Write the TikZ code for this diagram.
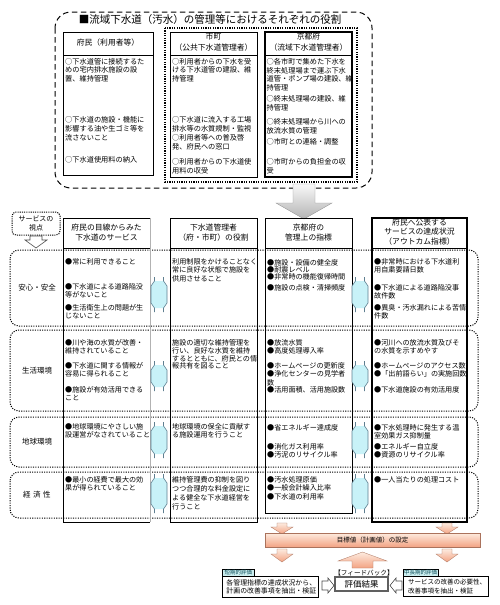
\documentclass[tikz,border=0pt]{standalone}
\usepackage{fontspec}
\setmainfont{Noto Sans CJK JP}
\usetikzlibrary{positioning}
\definecolor{linkfill}{HTML}{C8F2F8}
\definecolor{linkline}{HTML}{5F7F90}
\definecolor{peachlt}{HTML}{FDEBDF}
\definecolor{peachdk}{HTML}{F3A383}
\definecolor{tabfill}{HTML}{CDEFF0}
\definecolor{tabtext}{HTML}{0E4E5A}
\begin{document}
\begin{tikzpicture}[x=1pt,y=-1pt,
  colbox/.style={draw,line width=0.6pt},
  item/.style={anchor=north west,align=left,inner sep=0pt,font=\fontsize{7.1}{8.2}\selectfont},
  topitem/.style={item,font=\fontsize{7.2}{8.7}\selectfont},
  head/.style={align=center,inner sep=0pt,font=\fontsize{7.8}{9.2}\selectfont},
  rowbox/.style={draw,dash pattern=on 1.1pt off 1.3pt,line width=1pt,rounded corners=9pt},
  rowlabel/.style={inner sep=0pt,font=\fontsize{7.5}{9}\selectfont},
  dots/.style={dash pattern=on 1.2pt off 1.2pt,line width=1.3pt},
  peach/.style={draw=peachdk!70!black,top color=peachlt,bottom color=peachdk,line width=0.3pt},
  hollow/.style={draw=gray!60!black,fill=white,line width=0.6pt},
  evalbox/.style={draw,line width=1.1pt,fill=white,align=left,inner sep=0pt,anchor=north west},
  evaltab/.style={draw,line width=0.5pt,fill=tabfill,inner sep=0.9pt,anchor=south west,
    font=\fontsize{5.5}{6}\selectfont\color{tabtext}}]
  \useasboundingbox (0,0) rectangle (500,605);

  \draw[dash pattern=on 5.5pt off 3.5pt,line width=1pt,rounded corners=16pt] (55,12) rectangle (372,188);
  \node[inner sep=0pt,font=\fontsize{10.5}{12}\selectfont] (title) at (210,20) {■流域下水道（汚水）の管理等におけるそれぞれの役割};
  \draw[dots] (165,28) rectangle (357,182);
  \draw[colbox] (63,32) rectangle (153,175) (63,55) -- (153,55);
  \draw[colbox] (170,32) rectangle (257,177) (170,55) -- (257,55);
  \draw[colbox,line width=1.7pt] (265,32) rectangle (352,177);
  \draw[colbox] (265,55) -- (352,55);
  \node[head] (resident) at (108,43) {府民（利用者等）};
  \node[head,font=\fontsize{7.8}{10.5}\selectfont] (city) at (213.5,42) {市町\\（公共下水道管理者）};
  \node[head,font=\fontsize{7.8}{10.5}\selectfont] (pref) at (308.5,42) {京都府\\（流域下水道管理者）};

  \node[topitem] (r1) at (65,58) {○下水道管に接続するた\\めの宅内排水施設の設\\置、維持管理};
  \node[topitem] (r2) at (65,116.5) {○下水道の施設・機能に\\影響する油や生ゴミ等を\\流さないこと};
  \node[topitem] (r3) at (65,156.5) {○下水道使用料の納入};
  \node[topitem] (c1) at (172,58) {○利用者からの下水を受\\ける下水道管の建設、維\\持管理};
  \node[topitem] (c2) at (172,116.5) {○下水道に流入する工場\\排水等の水質規制・監視};
  \node[topitem] (c3) at (172,134.5) {○利用者等への普及啓\\発、府民への窓口};
  \node[topitem] (c4) at (172,158.5) {○利用者からの下水道使\\用料の収受};
  \node[topitem] (p1) at (266.5,58) {○各市町で集めた下水を\\終末処理場まで運ぶ下水\\道管・ポンプ場の建設、維\\持管理};
  \node[topitem] (p2) at (266.5,95.5) {○終末処理場の建設、維\\持管理};
  \node[topitem] (p3) at (266.5,118.5) {○終末処理場から川への\\放流水質の管理};
  \node[topitem] (p4) at (266.5,138.5) {○市町との連絡・調整};
  \node[topitem] (p5) at (266.5,158.5) {○市町からの負担金の収\\受};

  \draw[draw=gray!80,top color=gray!5,bottom color=gray!60] (293,184) -- (315,184) -- (315,203)
    -- (332,203) -- (304,219) -- (276,203) -- (293,203) -- cycle;

  \node[draw,dash pattern=on 1.1pt off 1.1pt,line width=1pt,rounded corners=4pt,minimum width=48pt,
    minimum height=23pt,inner sep=0pt,align=center,font=\fontsize{7}{8.5}\selectfont] (view) at (36,223.5) {サービスの\\視点};
  \draw[hollow] (30,236) -- (42,236) -- (42,240) -- (47,240) -- (36,248) -- (25,240) -- (30,240) -- cycle;

  \foreach \yt/\yb in {250/326,330/411,417/467,472/518}
    \draw[rowbox] (10,\yt) rectangle (478,\yb);
  \node[rowlabel] (safety) at (37,288) {安心・安全};
  \node[rowlabel] (living) at (37,370.5) {生活環境};
  \node[rowlabel] (globe) at (37,442) {地球環境};
  \node[rowlabel] (economy) at (37,495) {経\hspace{2.5pt}済\hspace{2.5pt}性};

  \draw[colbox] (150,218) -- (63,218) -- (63,522) -- (150,522) (63,248) -- (150,248);
  \draw[colbox,gray!60] (150,218) -- (150,522);
  \draw[colbox] (170,218) rectangle (257,522) (170,248) -- (257,248);
  \draw[colbox] (265,218) rectangle (352,513) (265,248) -- (352,248);
  \draw[colbox,line width=1.7pt] (372,218) rectangle (467,522);
  \draw[colbox] (372,248) -- (467,248);
  \node[head] (svc) at (106.5,232.5) {府民の目線からみた\\下水道のサービス};
  \node[head] (role) at (213.5,232.5) {下水道管理者\\（府・市町）の役割};
  \node[head] (index) at (308.5,232.5) {京都府の\\管理上の指標};
  \node[head] (outcome) at (419.5,232) {府民へ公表する\\サービスの達成状況\\（アウトカム指標）};

  \node[item] (s1a) at (65,258.5) {●常に利用できること};
  \node[item] (s1b) at (65,283.5) {●下水道による道路陥没\\等がないこと};
  \node[item] (s1c) at (65,304.5) {●生活衛生上の問題が生\\じないこと};
  \node[item] (s2a) at (172,258.5) {利用制限をかけることなく\\常に良好な状態で施設を\\供用させること};
  \node[item,font=\fontsize{7.1}{7.4}\selectfont] (s3a) at (267,259) {●施設・設備の健全度\\●耐震レベル\\●非常時の機能復帰時間};
  \node[item] (s3b) at (267,284.5) {●施設の点検・清掃頻度};
  \node[item] (s4a) at (374,258.5) {●非常時における下水道利\\用自粛要請日数};
  \node[item] (s4b) at (374,284.5) {●下水道による道路陥没事\\故件数};
  \node[item] (s4c) at (374,304.5) {●異臭・汚水漏れによる苦情\\件数};

  \node[item] (l1a) at (65,339.5) {●川や海の水質が改善・\\維持されていること};
  \node[item] (l1b) at (65,362.5) {●下水道に関する情報が\\容易に得られること};
  \node[item] (l1c) at (65,386.5) {●施設が有効活用できる\\こと};
  \node[item,font=\fontsize{7.1}{7.7}\selectfont] (l2a) at (172,339.5) {施設の適切な維持管理を\\行い、良好な水質を維持\\するとともに、府民との情\\報共有を図ること};
  \node[item] (l3a) at (267,339.5) {●放流水質\\●高度処理導入率};
  \node[item] (l3b) at (267,362.5) {●ホームページの更新度\\●浄化センターの見学者\\数};
  \node[item] (l3c) at (267,386.5) {●活用面積、活用施設数};
  \node[item] (l4a) at (374,339.5) {●河川への放流水質及びそ\\の水質を示すめやす};
  \node[item] (l4b) at (374,362.5) {●ホームページのアクセス数\\●「出前語らい」の実施回数};
  \node[item] (l4c) at (374,386.5) {●下水道施設の有効活用度};

  \node[item] (g1a) at (65,423.5) {●地球環境にやさしい施\\設運営がなされていること};
  \node[item] (g2a) at (172,423.5) {地球環境の保全に貢献す\\る施設運用を行うこと};
  \node[item] (g3a) at (267,424.5) {●省エネルギー達成度};
  \node[item] (g3b) at (267,443.5) {●消化ガス利用率\\●汚泥のリサイクル率};
  \node[item] (g4a) at (374,424.5) {●下水処理時に発生する温\\室効果ガス抑制量};
  \node[item] (g4b) at (374,443.5) {●エネルギー自立度\\●資源のリサイクル率};

  \node[item] (e1a) at (65,476.5) {●最小の経費で最大の効\\果が得られていること};
  \node[item,font=\fontsize{7.1}{8.9}\selectfont] (e2a) at (172,476.5) {維持管理費の抑制を図り\\つつ合理的な料金設定に\\よる健全な下水道経営を\\行うこと};
  \node[item] (e3a) at (267,476.5) {●汚水処理原価\\●一般会計繰入比率\\●下水道の利用率};
  \node[item] (e4a) at (374,476.5) {●一人当たりの処理コスト};

  \foreach \yt/\yb in {277/312,361/391,422/458,474/513}
    \foreach \xc in {159,360} {
      \fill[linkfill] (\xc-4.5,\yt+4) -- (\xc-8,\yt+9) -- (\xc-8,\yb-9) -- (\xc-4.5,\yb-4)
        -- (\xc+4.5,\yb-4) -- (\xc+8,\yb-9) -- (\xc+8,\yt+9) -- (\xc+4.5,\yt+4) -- cycle;
      \draw[linkline,line width=0.6pt] (\xc-4.5,\yt) -- (\xc-4.5,\yt+4) -- (\xc-8,\yt+9)
        -- (\xc-8,\yb-9) -- (\xc-4.5,\yb-4) -- (\xc-4.5,\yb);
      \draw[linkline,line width=0.6pt] (\xc+4.5,\yt) -- (\xc+4.5,\yt+4) -- (\xc+8,\yt+9)
        -- (\xc+8,\yb-9) -- (\xc+4.5,\yb-4) -- (\xc+4.5,\yb);
    }

  \foreach \xc in {282,447} {
    \draw[peach] (\xc-5,523) -- (\xc+5,523) -- (\xc+5,527) -- (\xc+11,527) -- (\xc,534)
      -- (\xc-11,527) -- (\xc-5,527) -- cycle;
    \draw[peach] (\xc-5,549) -- (\xc+5,549) -- (\xc+5,554) -- (\xc+11,554) -- (\xc,562)
      -- (\xc-11,554) -- (\xc-5,554) -- cycle;
  }
  \node[draw=peachdk!70!black,top color=peachlt,bottom color=peachdk,line width=0.3pt,minimum width=215pt,
    minimum height=14pt,inner sep=0pt,font=\fontsize{6.5}{7}\selectfont] (target) at (372.5,540) {目標値（計画値）の設定};
  \draw[peach] (352,568) -- (352,561) -- (338,561) -- (362.5,552) -- (387,561) -- (373,561) -- (373,568) -- cycle;
  \node[inner sep=0pt,font=\fontsize{6.6}{7}\selectfont] (feedback) at (364,572.5) {【フィードバック】};
  \node[draw=gray!75!black,line width=1.2pt,minimum width=53pt,minimum height=14pt,inner sep=0pt,
    font=\fontsize{8.5}{9}\selectfont] (result) at (361.5,584) {評価結果};

  \node[evalbox,minimum width=96pt,minimum height=21pt,font=\fontsize{6.9}{8.6}\selectfont] (shortbox) at (222,576)
    {\hspace{1.5pt}各管理指標の達成状況から、\\\hspace{1.5pt}計画の改善事項を抽出・検証};
  \node[evaltab,minimum width=32pt] (shorttab) at (shortbox.north west) {短期的評価};
  \node[evalbox,minimum width=85pt,minimum height=20pt,font=\fontsize{6.5}{8.6}\selectfont] (longbox) at (403,576)
    {\hspace{2pt}サービスの改善の必要性、\\\hspace{2pt}改善事項を抽出・検証};
  \node[evaltab] (longtab) at (longbox.north west) {中長期的評価};
  \draw[hollow] (322,581) -- (328,581) -- (328,578) -- (334,585.5) -- (328,593) -- (328,590) -- (322,590) -- cycle;
  \draw[hollow] (402,581) -- (396,581) -- (396,578) -- (390,585.5) -- (396,593) -- (396,590) -- (402,590) -- cycle;
\end{tikzpicture}
\end{document}
